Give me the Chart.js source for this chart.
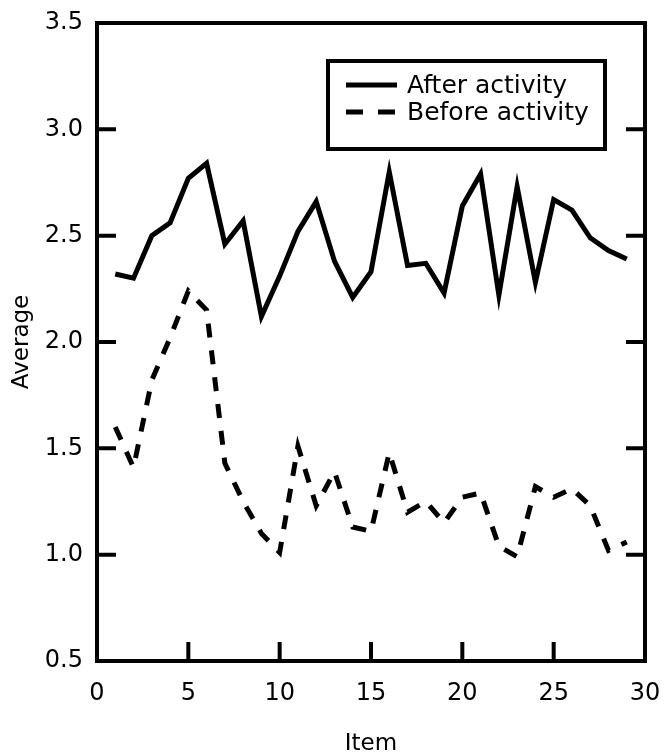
<!DOCTYPE html>
<html>
<head>
<meta charset="utf-8">
<script src="https://cdn.jsdelivr.net/npm/chart.js@4"></script>
<style>
  html, body { margin: 0; padding: 0; background: #fff; }
  #wrap { width: 665px; height: 756px; }
</style>
</head>
<body>
<div id="wrap"><canvas id="chart" width="665" height="756"></canvas></div>
<script>
// ---------- Data ----------
const items = [1, 2, 3, 4, 5, 6, 7, 8, 9, 10, 11, 12, 13, 14, 15, 16, 17, 18, 19, 20, 21, 22, 23, 24, 25, 26, 27, 28, 29];
const afterActivity = [2.32, 2.30, 2.50, 2.56, 2.77, 2.84, 2.46, 2.57, 2.12, 2.31, 2.52, 2.66, 2.38, 2.21, 2.33,
  2.80, 2.36, 2.37, 2.23, 2.64, 2.79, 2.22, 2.73, 2.28, 2.67, 2.62, 2.49, 2.43, 2.39];
const beforeActivity = [1.60, 1.41, 1.82, 2.02, 2.24, 2.15, 1.43, 1.25, 1.10, 1.01, 1.51, 1.23, 1.39, 1.13, 1.11,
  1.48, 1.20, 1.25, 1.15, 1.27, 1.29, 1.04, 0.99, 1.32, 1.27, 1.31, 1.23, 1.02, 1.06];
const xTicks = [0, 5, 10, 15, 20, 25, 30];
const yTicks = [0.5, 1.0, 1.5, 2.0, 2.5, 3.0, 3.5];
const seriesLabels = ['After activity', 'Before activity'];

const FONT = 'DejaVu Sans';
const DASH = [14, 13];

// ---------- Frame, inward ticks and boxed legend ----------
const framePlugin = {
  id: 'frame',
  afterDraw(chart) {
    const { ctx, chartArea: a, scales } = chart;
    const tick = 19;
    ctx.save();
    ctx.strokeStyle = '#000';
    ctx.lineWidth = 4;
    ctx.lineCap = 'butt';
    ctx.strokeRect(a.left, a.top, a.right - a.left, a.bottom - a.top);

    ctx.beginPath();
    xTicks.slice(1, -1).forEach(v => {
      const x = scales.x.getPixelForValue(v);
      ctx.moveTo(x, a.bottom);
      ctx.lineTo(x, a.bottom - tick);
    });
    yTicks.slice(1, -1).forEach(v => {
      const y = scales.y.getPixelForValue(v);
      ctx.moveTo(a.left, y);
      ctx.lineTo(a.left + tick, y);
      ctx.moveTo(a.right, y);
      ctx.lineTo(a.right - tick, y);
    });
    ctx.stroke();

    // legend box
    const box = { x: 328, y: 61, w: 277, h: 88 };
    ctx.fillStyle = '#fff';
    ctx.fillRect(box.x, box.y, box.w, box.h);
    ctx.strokeRect(box.x, box.y, box.w, box.h);
    ctx.font = '25px "' + FONT + '"';
    ctx.textBaseline = 'middle';
    ctx.fillStyle = '#000';
    const rows = [85, 112];
    chart.data.datasets.forEach((ds, i) => {
      const y = rows[i];
      ctx.beginPath();
      ctx.lineWidth = 5;
      ctx.setLineDash(i === 1 ? [17, 15] : []);
      ctx.moveTo(346, y);
      ctx.lineTo(397, y);
      ctx.stroke();
      ctx.setLineDash([]);
      ctx.fillText(ds.label, 407, y + 1);
    });
    ctx.restore();
  }
};

// ---------- Chart ----------
const ctx = document.getElementById('chart').getContext('2d');

new Chart(ctx, {
  type: 'line',
  data: {
    datasets: [
      {
        label: seriesLabels[0],
        data: items.map((x, i) => ({ x, y: afterActivity[i] })),
        borderColor: '#000',
        borderWidth: 5,
        pointRadius: 0,
        tension: 0,
        fill: false
      },
      {
        label: seriesLabels[1],
        data: items.map((x, i) => ({ x, y: beforeActivity[i] })),
        borderColor: '#000',
        borderWidth: 5,
        borderDash: DASH,
        borderCapStyle: 'butt',
        pointRadius: 0,
        tension: 0,
        fill: false
      }
    ]
  },
  options: {
    responsive: false,
    animation: false,
    layout: { padding: { top: 23, right: 20, left: 0, bottom: 0 } },
    plugins: {
      legend: { display: false },
      tooltip: { enabled: false }
    },
    scales: {
      x: {
        type: 'linear',
        min: 0,
        max: 30,
        afterFit: s => { s.height = 95; s.paddingLeft = 0; s.paddingRight = 0; },
        afterBuildTicks: s => { s.ticks = xTicks.map(v => ({ value: v })); },
        grid: { display: false, drawTicks: false },
        border: { display: false },
        ticks: {
          color: '#000',
          padding: 18,
          maxRotation: 0,
          font: { family: FONT, size: 24 }
        },
        title: {
          display: true,
          text: 'Item',
          color: '#000',
          padding: { top: 0, bottom: 0 },
          font: { family: FONT, size: 23, lineHeight: 1 }
        }
      },
      y: {
        type: 'linear',
        min: 0.5,
        max: 3.5,
        afterFit: s => { s.width = 97; s.paddingTop = 0; s.paddingBottom = 0; },
        afterBuildTicks: s => { s.ticks = yTicks.map(v => ({ value: v })); },
        grid: { display: false, drawTicks: false },
        border: { display: false },
        ticks: {
          color: '#000',
          padding: 14,
          font: { family: FONT, size: 24 },
          callback: v => v.toFixed(1)
        },
        title: {
          display: true,
          text: 'Average',
          color: '#000',
          padding: { top: 11, bottom: 0 },
          font: { family: FONT, size: 23, lineHeight: 1 }
        }
      }
    }
  },
  plugins: [framePlugin]
});
</script>
</body>
</html>
